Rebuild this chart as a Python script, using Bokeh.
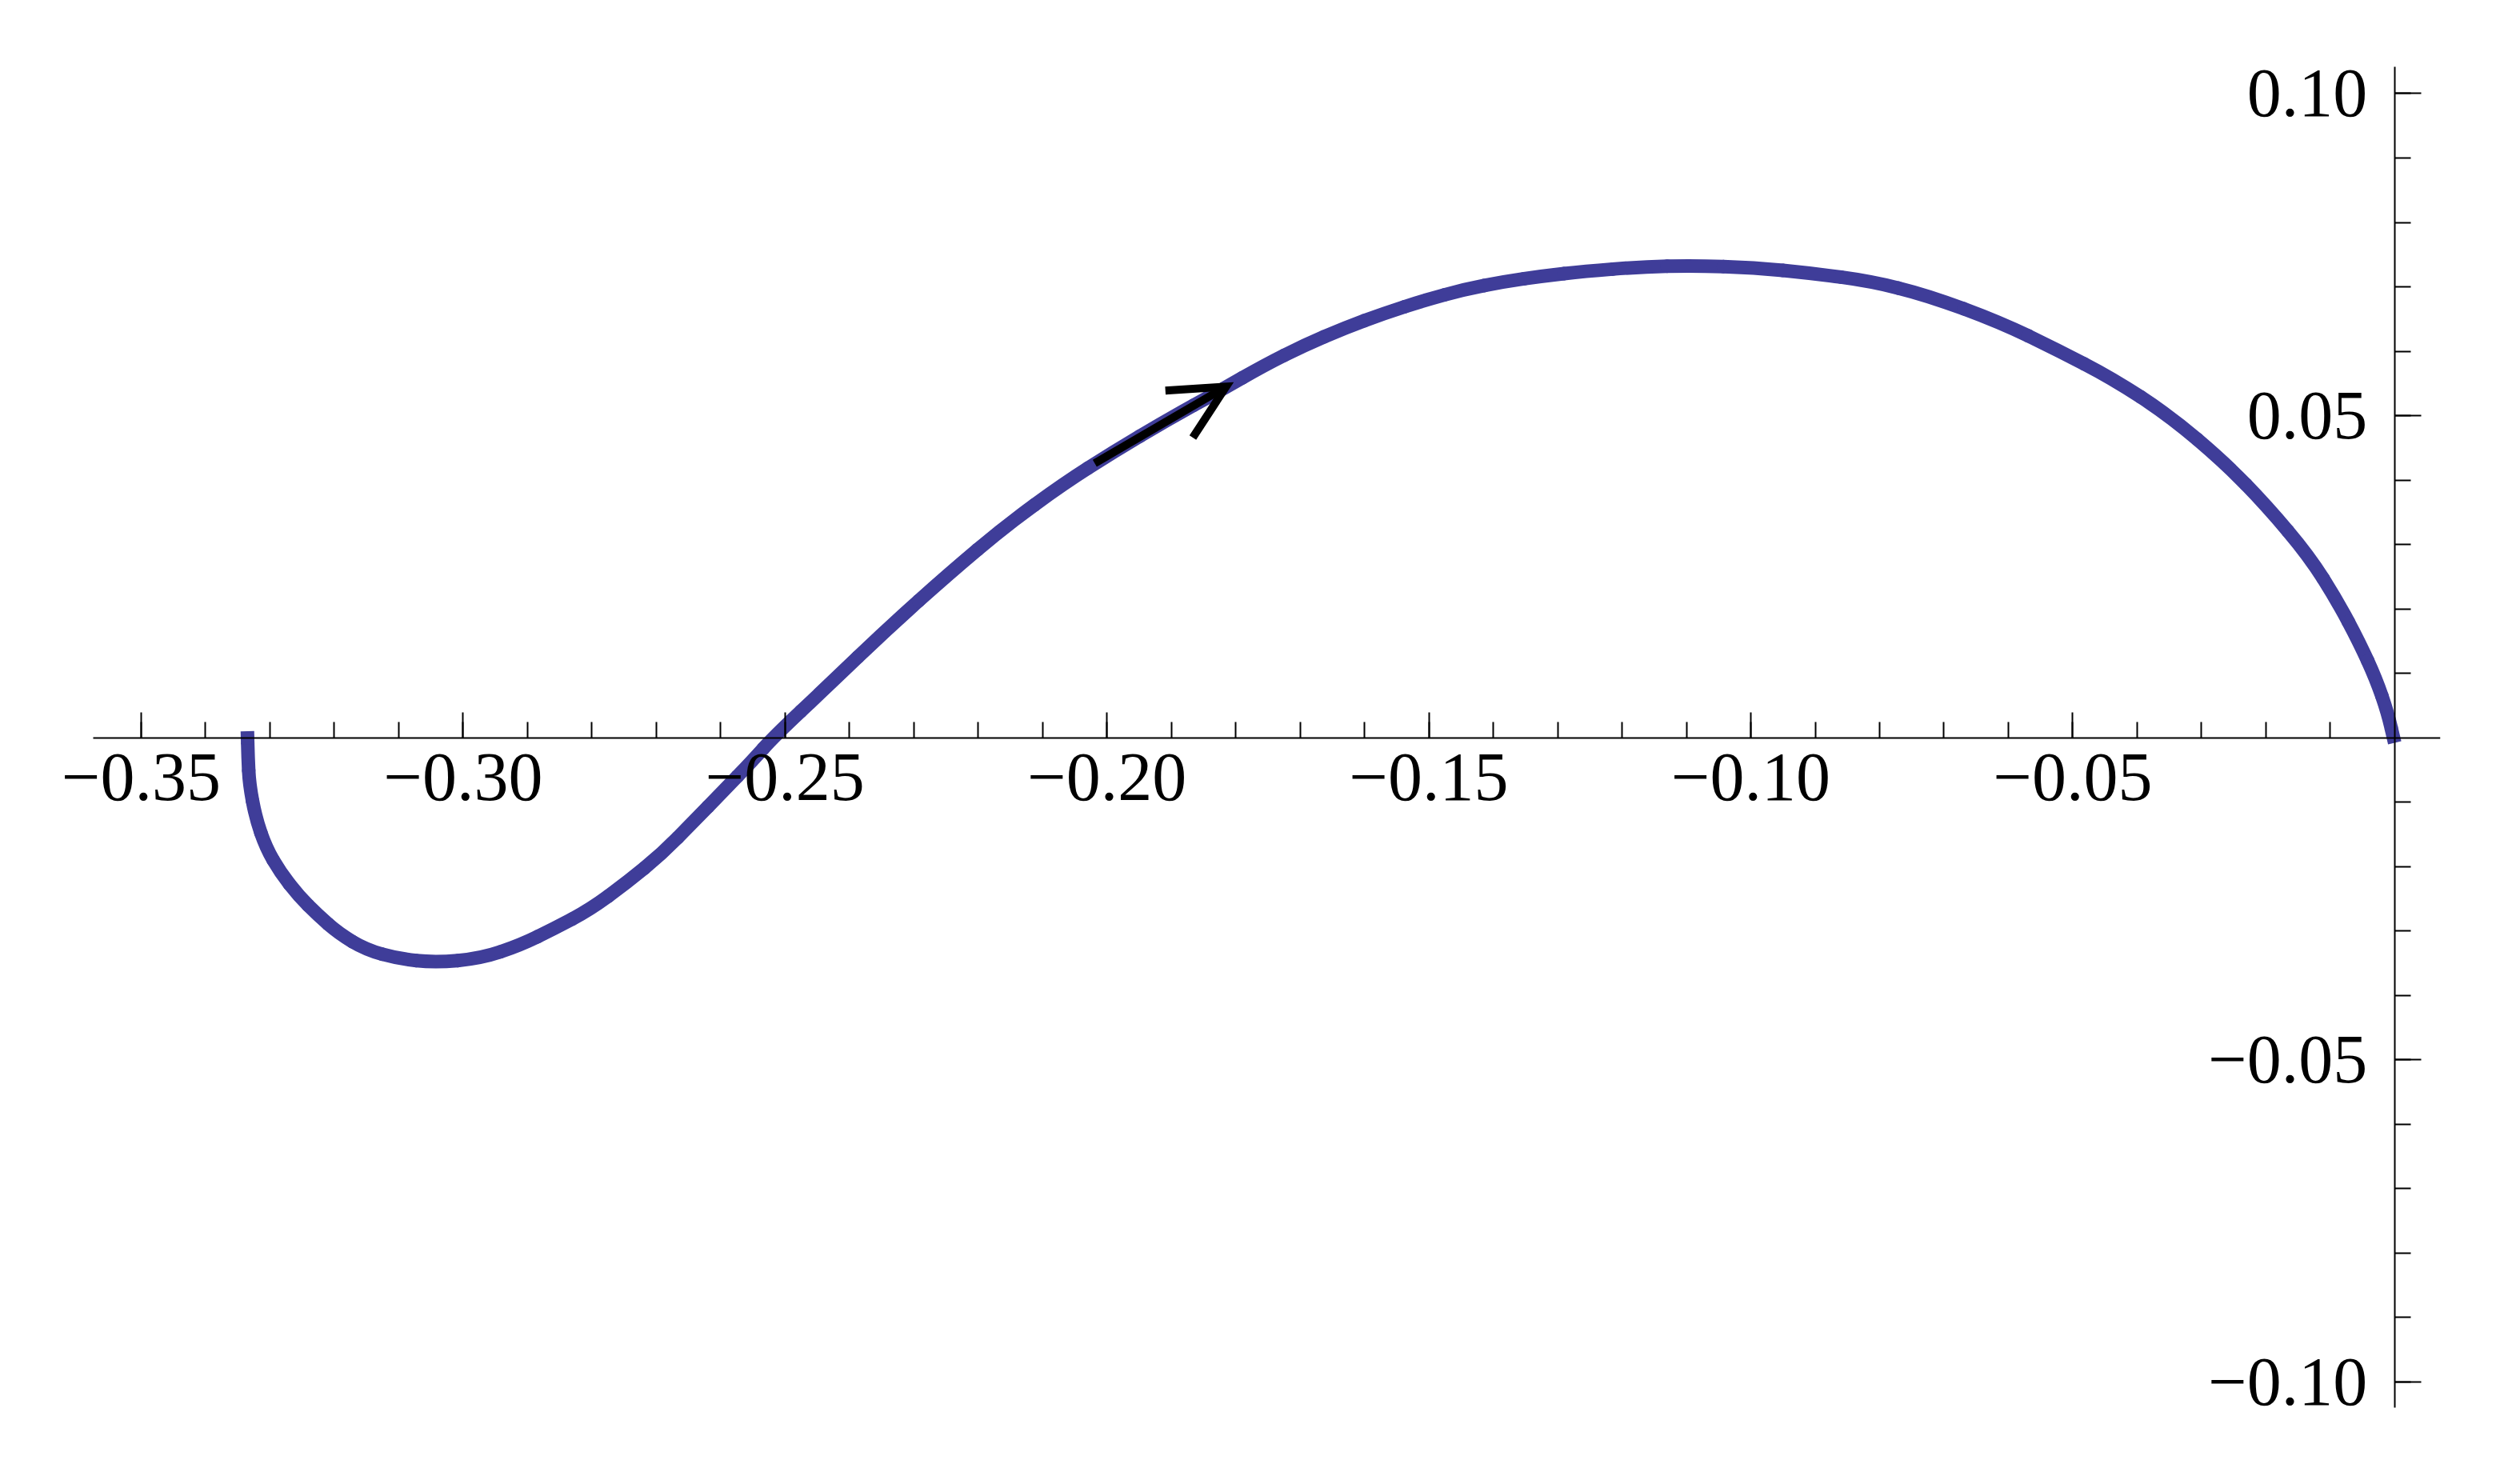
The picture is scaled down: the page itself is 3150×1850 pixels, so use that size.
from bokeh.plotting import figure
from bokeh.models import Range1d, FixedTicker, Arrow, OpenHead, ColumnDataSource
from bokeh.embed import file_html
from bokeh.resources import INLINE

# ---- data (parametric curve) ----
curve_x = [-0.3335, -0.3334, -0.3332, -0.3322, -0.3306, -0.3284, -0.3255, -0.3226,
           -0.3193, -0.3151, -0.3101, -0.3044, -0.2973, -0.2911, -0.2858, -0.2803,
           -0.2746, -0.2691, -0.2642, -0.2597, -0.2551, -0.2517, -0.2434, -0.2340,
           -0.2245, -0.2157, -0.2068, -0.1991, -0.1907, -0.1824, -0.1756, -0.1694,
           -0.1631, -0.1569, -0.1507, -0.1445, -0.1383, -0.1321, -0.1259, -0.1170,
           -0.1090, -0.0995, -0.0905, -0.0815, -0.0726, -0.0613, -0.0526, -0.0439,
           -0.0350, -0.0263, -0.0199, -0.0133, -0.0089, -0.0055, -0.0029, -0.0011,
           0.0000]
curve_y = [0.0010, -0.0030, -0.0072, -0.0125, -0.0171, -0.0209, -0.0246, -0.0275,
           -0.0304, -0.0329, -0.0343, -0.0349, -0.0343, -0.0322, -0.0296, -0.0267,
           -0.0225, -0.0180, -0.0130, -0.0084, -0.0036, 0.0002, 0.0080, 0.0170,
           0.0255, 0.0329, 0.0394, 0.0443, 0.0493, 0.0539, 0.0578, 0.0609,
           0.0636, 0.0659, 0.0679, 0.0696, 0.0708, 0.0717, 0.0724, 0.0731,
           0.0733, 0.0730, 0.0721, 0.0709, 0.0687, 0.0645, 0.0603, 0.0558,
           0.0500, 0.0426, 0.0360, 0.0282, 0.0212, 0.0148, 0.0091, 0.0039,
           -0.0008]

arrow_x = [-0.2019, -0.1815]
arrow_y = [0.0426, 0.0545]

x_major = [-0.35, -0.30, -0.25, -0.20, -0.15, -0.10, -0.05]
x_labels = ["\u22120.35", "\u22120.30", "\u22120.25", "\u22120.20", "\u22120.15", "\u22120.10", "\u22120.05"]
x_minor = [-0.35, -0.34, -0.33, -0.32, -0.31, -0.30, -0.29, -0.28, -0.27, -0.26,
           -0.25, -0.24, -0.23, -0.22, -0.21, -0.20, -0.19, -0.18, -0.17, -0.16,
           -0.15, -0.14, -0.13, -0.12, -0.11, -0.10, -0.09, -0.08, -0.07, -0.06,
           -0.05, -0.04, -0.03, -0.02, -0.01]

y_major = [-0.10, -0.05, 0.05, 0.10]
y_labels = ["\u22120.10", "\u22120.05", "0.05", "0.10"]
y_minor = [-0.10, -0.09, -0.08, -0.07, -0.06, -0.05, -0.04, -0.03, -0.02, -0.01,
           0.01, 0.02, 0.03, 0.04, 0.05, 0.06, 0.07, 0.08, 0.09, 0.10]

# extent of the drawn axes
axis_x = (-0.3574, 0.0071)
axis_y = (-0.1040, 0.1042)
# visible window (a little larger so the tick labels fit)
view_x = (-0.3700, 0.0071)
view_y = (-0.1091, 0.1095)

CURVE_COLOR = "#3f3d99"
FONT = "Liberation Serif"

p = figure(
    frame_width=3035, frame_height=1760,
    min_border_left=15, min_border_top=40, min_border_right=40, min_border_bottom=30,
    x_range=Range1d(*view_x), y_range=Range1d(*view_y),
    output_backend="svg", toolbar_location=None,
    background_fill_color="white", border_fill_color="white",
)
p.outline_line_color = None
p.xgrid.visible = False
p.ygrid.visible = False

# smooth rendering of the read points: quadratic pieces between midpoints,
# with each read point as the control point
n = len(curve_x)
mid_x = [(curve_x[i] + curve_x[i + 1]) / 2 for i in range(n - 1)]
mid_y = [(curve_y[i] + curve_y[i + 1]) / 2 for i in range(n - 1)]
quad_src = ColumnDataSource(dict(
    x0=mid_x[:-1], y0=mid_y[:-1], x1=mid_x[1:], y1=mid_y[1:],
    cx=curve_x[1:-1], cy=curve_y[1:-1],
))
p.quadratic(x0="x0", y0="y0", x1="x1", y1="y1", cx="cx", cy="cy", source=quad_src,
            line_color=CURVE_COLOR, line_width=17, line_cap="round")
end_src = ColumnDataSource(dict(
    x0=[curve_x[0], mid_x[-1]], y0=[curve_y[0], mid_y[-1]],
    x1=[mid_x[0], curve_x[-1]], y1=[mid_y[0], curve_y[-1]],
))
p.segment(x0="x0", y0="y0", x1="x1", y1="y1", source=end_src,
          line_color=CURVE_COLOR, line_width=17, line_cap="butt")

arrow = Arrow(
    end=OpenHead(size=68, line_width=10, line_color="black", line_join="miter"),
    x_start=arrow_x[0], y_start=arrow_y[0], x_end=arrow_x[1], y_end=arrow_y[1],
    line_color="black", line_width=10,
)
p.add_layout(arrow)

xa = p.xaxis[0]
xa.fixed_location = 0
xa.bounds = axis_x
xa.ticker = FixedTicker(ticks=x_major, minor_ticks=x_minor)
xa.major_label_overrides = dict(zip(x_major, x_labels))
xa.major_tick_in = 32
xa.major_tick_out = 0
xa.minor_tick_in = 20
xa.minor_tick_out = 0
xa.major_label_standoff = 21

ya = p.yaxis[0]
ya.fixed_location = 0
ya.bounds = axis_y
ya.ticker = FixedTicker(ticks=y_major, minor_ticks=y_minor)
ya.major_label_overrides = dict(zip(y_major, y_labels))
ya.major_tick_in = 33
ya.major_tick_out = 0
ya.minor_tick_in = 20
ya.minor_tick_out = 0
ya.major_label_standoff = 34

for ax in (xa, ya):
    ax.axis_line_color = "black"
    ax.axis_line_width = 2
    ax.major_tick_line_color = "black"
    ax.major_tick_line_width = 2
    ax.minor_tick_line_color = "black"
    ax.minor_tick_line_width = 2
    ax.major_label_text_font = FONT
    ax.major_label_text_font_size = "86px"
    ax.major_label_text_color = "black"

open("out.html", "w", encoding="utf-8").write(file_html(p, INLINE))
